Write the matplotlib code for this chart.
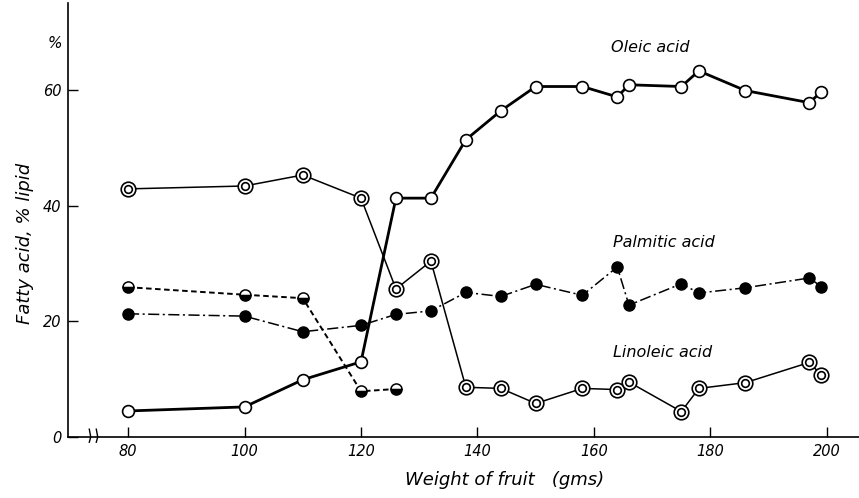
import matplotlib
matplotlib.use("Agg")
import matplotlib.pyplot as plt
import matplotlib.transforms as mtransforms

plt.rcParams['lines.scale_dashes'] = False
plt.rcParams['font.family'] = ['DejaVu Sans']

# ---- data ----
oleic_x = [80, 100, 110, 120, 126, 132, 138, 144, 150, 158, 164, 166, 175, 178, 186, 197, 199]
oleic_y = [4.5, 5.2, 9.9, 13.0, 41.3, 41.3, 51.4, 56.4, 60.6, 60.6, 58.8, 60.9, 60.6, 63.3, 59.9, 57.8, 59.7]

linoleic_x = [80, 100, 110, 120, 126, 132, 138, 144, 150, 158, 164, 166, 175, 178, 186, 197, 199]
linoleic_y = [42.9, 43.4, 45.3, 41.3, 25.6, 30.4, 8.6, 8.4, 5.8, 8.4, 8.2, 9.5, 4.4, 8.4, 9.4, 12.9, 10.7]

palmitic_x = [80, 100, 110, 120, 126, 132, 138, 144, 150, 158, 164, 166, 175, 178, 186, 197, 199]
palmitic_y = [21.3, 20.9, 18.2, 19.3, 21.2, 21.8, 25.0, 24.3, 26.4, 24.5, 29.4, 22.8, 26.5, 24.9, 25.8, 27.5, 26.0]

stearic_x = [80, 100, 110, 120, 126]
stearic_y = [25.9, 24.6, 24.0, 7.9, 8.3]

x_ticks = [80, 100, 120, 140, 160, 180, 200]
y_ticks = [0, 20, 40, 60]

labels = {"oleic": "Oleic acid", "palmitic": "Palmitic acid", "linoleic": "Linoleic acid"}

# ---- figure ----
fig = plt.figure(figsize=(8.59, 4.98), dpi=100)
ax = fig.add_axes([0.0792, 0.1225, 0.9208, 0.871])

# Stearic (half-filled, dashed)
ax.plot(stearic_x, stearic_y, color='black', lw=1.4, linestyle=(0, (4, 2.5)),
        marker='o', ms=8, fillstyle='bottom', markerfacecolor='black',
        markerfacecoloralt='white', markeredgecolor='black', mew=1.1, zorder=3)

# Palmitic (filled, dash-dot)
ax.plot(palmitic_x, palmitic_y, color='black', lw=1.1, linestyle=(0, (8, 2.5, 1.5, 2.5)),
        marker='o', ms=8, markerfacecolor='black', markeredgecolor='black', zorder=3)

# Linoleic (double circles, thin solid)
ax.plot(linoleic_x, linoleic_y, color='black', lw=1.1, linestyle='-',
        marker='o', ms=10.5, markerfacecolor='white', markeredgecolor='black', mew=1.2, zorder=4)
ax.plot(linoleic_x, linoleic_y, linestyle='none', marker='o', ms=5.5,
        markerfacecolor='white', markeredgecolor='black', mew=1.2, zorder=5)

# Oleic (open circles, thick solid)
ax.plot(oleic_x, oleic_y, color='black', lw=2.0, linestyle='-',
        marker='o', ms=8.5, markerfacecolor='white', markeredgecolor='black', mew=1.2, zorder=6)

# ---- axes styling ----
ax.set_xlim(69.7, 205.5)
ax.set_ylim(0, 75)
for s in ['top', 'right']:
    ax.spines[s].set_visible(False)
for s in ['left', 'bottom']:
    ax.spines[s].set_linewidth(1.2)

tick_font = dict(style='italic', size=10.5)
ax.set_xticks(x_ticks)
ax.set_xticklabels([str(v) for v in x_ticks], **tick_font)
ax.set_yticks(y_ticks)
ax.set_yticklabels([str(v) for v in y_ticks], **tick_font)
ax.tick_params(axis='both', direction='in', length=7, width=1.0, pad=5)

ax.set_xlabel('Weight of fruit   (gms)', style='italic', size=13)
ax.xaxis.set_label_coords(0.552, -0.078)
ax.set_ylabel('Fatty acid, % lipid', style='italic', size=13)
ax.yaxis.set_label_coords(-0.043, 0.447)

# percent sign above the y axis
ax.annotate('%', xy=(-0.017, 68), xycoords=('axes fraction', 'data'),
            ha='center', va='center', style='italic', size=11)

# series labels
ax.text(163, 67.4, labels["oleic"], style='italic', size=11.5, va='center', ha='left')
ax.text(163.2, 33.6, labels["palmitic"], style='italic', size=11.5, va='center', ha='left')
ax.text(163.2, 14.6, labels["linoleic"], style='italic', size=11.5, va='center', ha='left')

# axis break marks
trans = mtransforms.blended_transform_factory(ax.transData, ax.transAxes)
for bx in (73.6, 74.8):
    ax.plot([bx - 0.25, bx, bx - 0.25], [-0.012, 0.0, 0.018], color='black', lw=1.0,
            transform=trans, clip_on=False, zorder=7)

fig.savefig('out.png', dpi=100, facecolor='white')
